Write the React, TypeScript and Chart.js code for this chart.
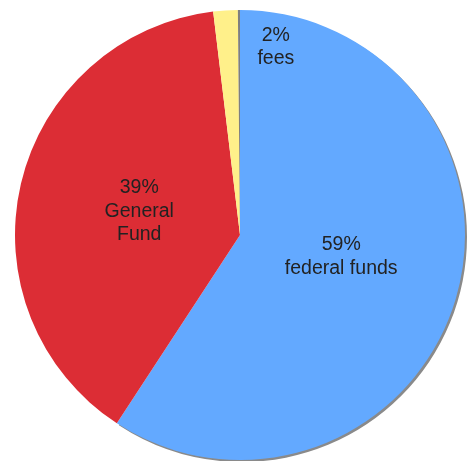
import React, { useEffect, useRef } from "react";
import { Chart, registerables } from "chart.js";

Chart.register(...registerables);

const categories = ["federal funds", "General Fund", "fees", "other"];
const values = [59.1, 38.8, 1.75, 0.15];
const percentLabels = ["59%", "39%", "2%", ""];
const sliceColors = ["#63a9ff", "#dc2d35", "#fff08a", "#7f7f7f"];

const shadowPlugin = {
  id: "blueShadow",
  beforeDatasetsDraw(chart: any) {
    const meta = chart.getDatasetMeta(0);
    const arc = meta.data[0];
    if (!arc) return;
    const { x, y, startAngle, endAngle, outerRadius } = arc.getProps(
      ["x", "y", "startAngle", "endAngle", "outerRadius"],
      true
    );
    const ctx = chart.ctx;
    ctx.save();
    ctx.translate(2, 2);
    ctx.fillStyle = "#8a8a8a";
    ctx.beginPath();
    ctx.moveTo(x, y);
    ctx.arc(x, y, outerRadius, startAngle, endAngle);
    ctx.closePath();
    ctx.fill();
    ctx.restore();
  },
};

const labelPlugin = {
  id: "sliceLabels",
  afterDatasetsDraw(chart: any) {
    const meta = chart.getDatasetMeta(0);
    const ctx = chart.ctx;
    ctx.save();
    ctx.fillStyle = "#222222";
    ctx.font = '19.5px "Liberation Sans", Arial, sans-serif';
    ctx.textAlign = "center";
    ctx.textBaseline = "middle";
    meta.data.forEach((arc: any, i: number) => {
      if (!percentLabels[i]) return;
      const { x, y, startAngle, endAngle, outerRadius } = arc.getProps(
        ["x", "y", "startAngle", "endAngle", "outerRadius"],
        true
      );
      const small = values[i] < 5;
      let mid = (startAngle + endAngle) / 2;
      let frac = 0.46;
      if (small) {
        mid += (14.5 * Math.PI) / 180;
        frac = 0.85;
      } else if (i === 0) {
        mid -= (4.5 * Math.PI) / 180;
      }
      const cx = x + Math.cos(mid) * outerRadius * frac;
      const cy = y + Math.sin(mid) * outerRadius * frac;
      const words = categories[i].split(" ");
      let lines: string[];
      if (i === 1) lines = [percentLabels[i], ...words];
      else lines = [percentLabels[i], categories[i]];
      const lh = 23.5;
      const top = cy - ((lines.length - 1) * lh) / 2;
      lines.forEach((ln, k) => ctx.fillText(ln, cx, top + k * lh));
    });
    ctx.restore();
  },
};

export default function App() {
  const ref = useRef<HTMLCanvasElement>(null);
  useEffect(() => {
    document.body.style.margin = "0";
    const chart = new Chart(ref.current!, {
      type: "pie",
      data: {
        labels: categories,
        datasets: [
          {
            data: values,
            backgroundColor: sliceColors,
            borderWidth: 0,
            hoverOffset: 0,
          },
        ],
      },
      options: {
        responsive: false,
        animation: false,
        layout: { padding: { left: 15, right: 4, top: 10, bottom: 1 } },
        plugins: {
          legend: { display: false },
          tooltip: { enabled: false },
        },
      },
      plugins: [shadowPlugin, labelPlugin],
    });
    return () => chart.destroy();
  }, []);
  return <canvas ref={ref} width={469} height={461} style={{ display: "block" }} />;
}
